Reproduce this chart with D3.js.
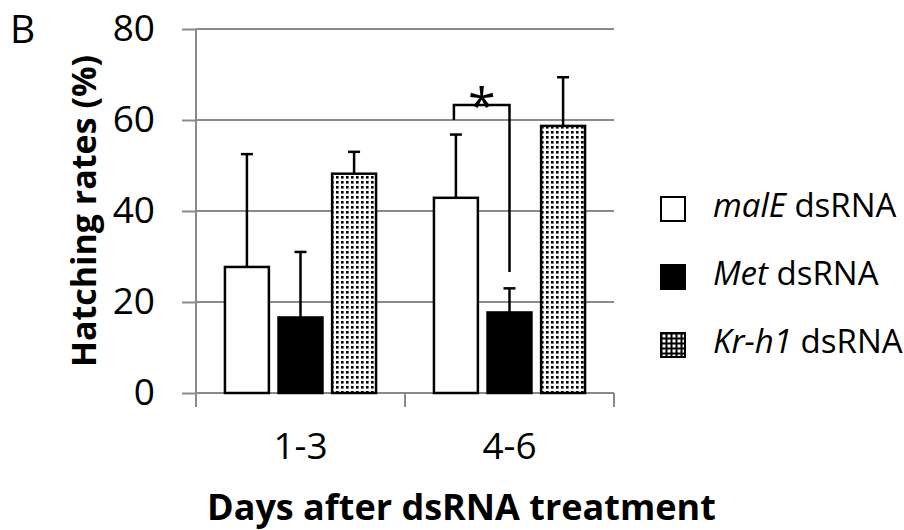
<!DOCTYPE html>
<html>
<head>
<meta charset="utf-8">
<script src="https://cdn.jsdelivr.net/npm/d3@7"></script>
<style>
  html, body { margin: 0; padding: 0; background: #fff; }
  svg { display: block; font-family: "Open Sans", "Liberation Sans", sans-serif; }
</style>
</head>
<body>
<svg id="chart" width="904" height="530"></svg>
<script>
// Hatching rates by days after dsRNA treatment
const categories = ["1-3", "4-6"];
const seriesNames = ["malE", "Met", "Kr-h1"];
const malEMeans = [27.7, 42.9];
const malEErr = [24.8, 13.9];
const metMeans = [16.6, 17.7];
const metErr = [14.4, 5.3];
const krh1Means = [48.2, 58.7];
const krh1Err = [4.8, 10.7];
const yTicks = [0, 20, 40, 60, 80];

// significance bracket between malE and Met at 4-6 days
const bracketCategory = "4-6";
const bracketPair = ["malE", "Met"];
const bracketTop = 63.3;
const bracketLeftEnd = 60;
const bracketRightEnd = 26.6;
const bracketLabel = "*";

const seriesData = [
  { name: "malE", means: malEMeans, err: malEErr, fill: "#fff" },
  { name: "Met", means: metMeans, err: metErr, fill: "#000" },
  { name: "Kr-h1", means: krh1Means, err: krh1Err, fill: "url(#dots)" }
];

const svg = d3.select("#chart");
const plot = { left: 196, right: 614, top: 29, bottom: 393 };
const grey = "#8a8a8a";

const y = d3.scaleLinear().domain([0, 80]).range([plot.bottom, plot.top]);
const x0 = d3.scaleBand().domain(categories).range([plot.left, plot.right]);
const x1 = d3.scaleBand().domain(seriesNames)
  .range([0, x0.bandwidth()]).paddingInner(0.18).paddingOuter(0.54);

// fill patterns
const defs = svg.append("defs");
const dots = defs.append("pattern").attr("id", "dots")
  .attr("patternUnits", "userSpaceOnUse").attr("width", 5).attr("height", 5);
dots.append("rect").attr("width", 5).attr("height", 5).attr("fill", "#fff");
dots.append("rect").attr("x", 1).attr("y", 1).attr("width", 2.6).attr("height", 2.6).attr("fill", "#000");

const grid = defs.append("pattern").attr("id", "gridIcon")
  .attr("patternUnits", "userSpaceOnUse").attr("width", 5).attr("height", 5);
grid.append("rect").attr("width", 5).attr("height", 5).attr("fill", "#000");
grid.append("rect").attr("x", 1.5).attr("y", 1.5).attr("width", 3).attr("height", 3).attr("fill", "#fff");

// y axis with gridlines
const yAxis = d3.axisLeft(y).tickValues(yTicks).tickSize(14).tickPadding(27);
const yG = svg.append("g").attr("transform", `translate(${plot.left},0)`).call(yAxis);
yG.select(".domain").remove();
yG.selectAll(".tick line").attr("stroke", grey).attr("stroke-width", 2);
yG.selectAll(".tick text").attr("font-size", 37).attr("fill", "#000")
  .attr("font-family", "Open Sans");

svg.append("g").selectAll("line").data(yTicks).join("line")
  .attr("x1", plot.left).attr("x2", plot.right)
  .attr("y1", d => y(d)).attr("y2", d => y(d))
  .attr("stroke", grey).attr("stroke-width", 2);

// vertical axis line (continues into the first category tick)
svg.append("line")
  .attr("x1", plot.left).attr("x2", plot.left)
  .attr("y1", y(80)).attr("y2", plot.bottom + 14)
  .attr("stroke", grey).attr("stroke-width", 2);

// category boundary ticks
const boundaries = categories.map(c => x0(c)).concat([x0(categories[categories.length - 1]) + x0.bandwidth()]);
svg.append("g").selectAll("line").data(boundaries).join("line")
  .attr("x1", d => d).attr("x2", d => d)
  .attr("y1", plot.bottom).attr("y2", plot.bottom + 14)
  .attr("stroke", grey).attr("stroke-width", 2);

// category labels
const xAxis = d3.axisBottom(x0).tickSize(0).tickPadding(40);
const xG = svg.append("g").attr("transform", `translate(0,${plot.bottom})`).call(xAxis);
xG.select(".domain").remove();
xG.selectAll(".tick text").attr("font-size", 37).attr("fill", "#000")
  .attr("font-family", "Open Sans");

// bars and error bars
const groups = svg.append("g").selectAll("g").data(seriesData).join("g");
groups.each(function (s) {
  const g = d3.select(this);
  const rows = categories.map((c, i) => ({ c, m: s.means[i], e: s.err[i] }));
  const cx = d => x0(d.c) + x1(s.name) + x1.bandwidth() / 2;
  // error bar stems (upper only) drawn behind the bars
  g.selectAll("line.stem").data(rows).join("line").attr("class", "stem")
    .attr("x1", cx).attr("x2", cx)
    .attr("y1", d => y(d.m)).attr("y2", d => y(d.m + d.e))
    .attr("stroke", "#000").attr("stroke-width", 2.5);
  g.selectAll("line.cap").data(rows).join("line").attr("class", "cap")
    .attr("x1", d => cx(d) - 6).attr("x2", d => cx(d) + 6)
    .attr("y1", d => y(d.m + d.e)).attr("y2", d => y(d.m + d.e))
    .attr("stroke", "#000").attr("stroke-width", 2.5);
  g.selectAll("rect").data(rows).join("rect")
    .attr("x", d => x0(d.c) + x1(s.name))
    .attr("width", x1.bandwidth())
    .attr("y", d => y(d.m))
    .attr("height", d => y(0) - y(d.m))
    .attr("fill", s.fill)
    .attr("stroke", "#000").attr("stroke-width", 2.5);
});

// significance bracket
const bx = n => x0(bracketCategory) + x1(n) + x1.bandwidth() / 2;
const bl = bx(bracketPair[0]) - 2, br = bx(bracketPair[1]);
svg.append("path")
  .attr("d", `M${bl},${y(bracketLeftEnd)}V${y(bracketTop)}H${br}V${y(bracketRightEnd)}`)
  .attr("fill", "none").attr("stroke", "#000").attr("stroke-width", 2.5);
svg.append("text")
  .attr("x", (bl + br) / 2).attr("y", y(bracketTop) + 19)
  .attr("text-anchor", "middle").attr("font-size", 50)
  .text(bracketLabel);

// axis titles
svg.append("text")
  .attr("transform", `translate(96,${211}) rotate(-90)`)
  .attr("text-anchor", "middle").attr("font-size", 34).attr("font-weight", "bold")
  .text("Hatching rates (%)");

svg.append("text")
  .attr("x", 207).attr("y", 520)
  .attr("font-size", 36).attr("font-weight", "bold")
  .text("Days after dsRNA treatment");

// panel letter
svg.append("text").attr("x", 10).attr("y", 43).attr("font-size", 39).text("B");

// legend
const legendFills = { "malE": "#fff", "Met": "#000", "Kr-h1": "url(#gridIcon)" };
const legend = svg.append("g").selectAll("g").data(seriesNames).join("g")
  .attr("transform", (d, i) => `translate(661,${197 + i * 68})`);
legend.append("rect").attr("width", 24).attr("height", 24)
  .attr("fill", d => legendFills[d]).attr("stroke", "#000").attr("stroke-width", 2);
const lt = legend.append("text").attr("x", 52).attr("y", 20).attr("font-size", 33);
lt.append("tspan").attr("font-style", "italic").text(d => d);
lt.append("tspan").text(" dsRNA");
</script>
</body>
</html>
